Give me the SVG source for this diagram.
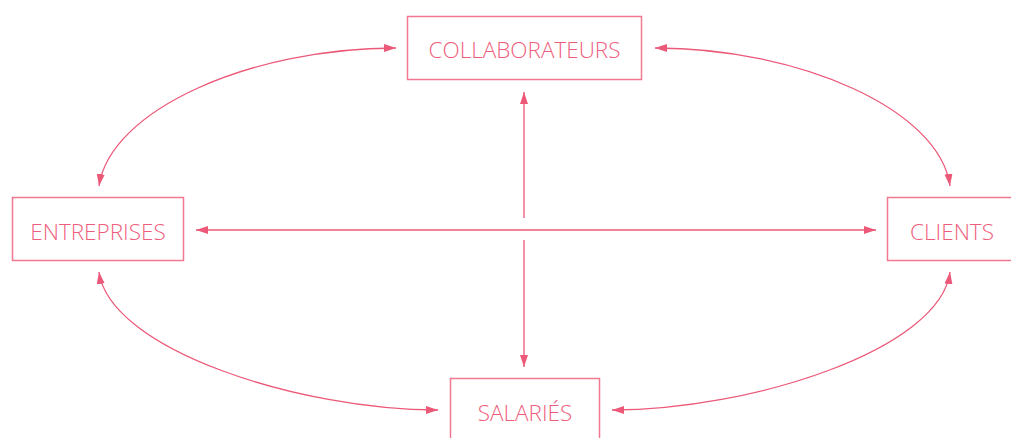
<svg xmlns="http://www.w3.org/2000/svg" width="1011" height="438" viewBox="0 0 1011 438">
<style>
.box{fill:#fff;stroke:#f07890;stroke-width:1.5}
.lbl{font-family:"Open Sans","Noto Sans",sans-serif;font-weight:300;font-size:22.5px;fill:#ef5d7c;text-anchor:middle}
.con{fill:none;stroke:#ec5878;stroke-width:1.3}
</style>
<defs>
<marker id="ah" viewBox="0 0 12 10" refX="12" refY="5" markerWidth="12" markerHeight="10" markerUnits="userSpaceOnUse" orient="auto-start-reverse">
<path d="M0,1 L12,5 L0,9 Z" fill="#ec5878"/>
</marker>
</defs>
<rect width="1011" height="438" fill="#fff"/>
<g id="connectors">
<path class="con" d="M524,218 V92" marker-end="url(#ah)"/>
<path class="con" d="M524,240 V367" marker-end="url(#ah)"/>
<path class="con" d="M196,230 H876" marker-start="url(#ah)" marker-end="url(#ah)"/>
<path class="con" d="M99,186 C110,110 250,48 396,48" marker-start="url(#ah)" marker-end="url(#ah)"/>
<path class="con" d="M655,48 C800,48 940,110 950,186" marker-start="url(#ah)" marker-end="url(#ah)"/>
<path class="con" d="M99,272 C110,350 300,410 438,410" marker-start="url(#ah)" marker-end="url(#ah)"/>
<path class="con" d="M612,410 C750,410 940,350 950,272" marker-start="url(#ah)" marker-end="url(#ah)"/>
</g>
<g id="collaborateurs">
<rect class="box" x="407.5" y="16.5" width="234" height="63"/>
<text class="lbl" x="524.5" y="58">COLLABORATEURS</text>
</g>
<g id="entreprises">
<rect class="box" x="12.5" y="197.5" width="171" height="63"/>
<text class="lbl" x="98" y="240">ENTREPRISES</text>
</g>
<g id="clients">
<rect class="box" x="887.5" y="197.5" width="140" height="63"/>
<text class="lbl" x="952" y="240">CLIENTS</text>
</g>
<g id="salaries">
<rect class="box" x="450.5" y="378.5" width="149" height="80"/>
<text class="lbl" x="525" y="421">SALARIÉS</text>
</g>
</svg>
